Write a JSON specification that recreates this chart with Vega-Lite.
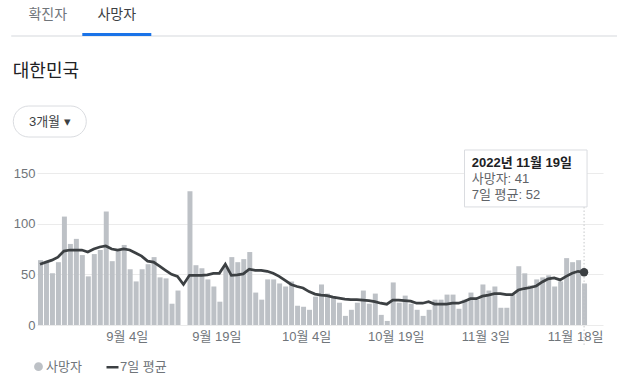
{
  "$schema": "https://vega.github.io/schema/vega-lite/v6.json",
  "background": "white",
  "padding": {"left": 10, "top": 7, "right": 0, "bottom": 0},
  "config": {
    "font": "Liberation Sans, Noto Sans CJK KR, sans-serif",
    "view": {"stroke": null},
    "axis": {"labelFont": "Liberation Sans, Noto Sans CJK KR, sans-serif", "labelColor": "#70757a", "labelFontSize": 13},
    "legend": {"labelFont": "Liberation Sans, Noto Sans CJK KR, sans-serif", "labelFontSize": 13, "labelColor": "#70757a"},
    "text": {"font": "Liberation Sans, Noto Sans CJK KR, sans-serif"}
  },
  "datasets": {
    "tabs": [{"tab": "확진자", "active": false}, {"tab": "사망자", "active": true}],
    "button": [{"label": "3개월  ▾"}],
    "tip": [{"date": "2022-11-19", "deaths": 41, "avg": 52}],
    "covid": [
      {"date": "2022-08-20", "deaths": 64, "avg": 60},
      {"date": "2022-08-21", "deaths": 62, "avg": 62},
      {"date": "2022-08-22", "deaths": 51, "avg": 64},
      {"date": "2022-08-23", "deaths": 62, "avg": 67},
      {"date": "2022-08-24", "deaths": 107, "avg": 73},
      {"date": "2022-08-25", "deaths": 80, "avg": 74},
      {"date": "2022-08-26", "deaths": 85, "avg": 74},
      {"date": "2022-08-27", "deaths": 69, "avg": 74},
      {"date": "2022-08-28", "deaths": 48, "avg": 72},
      {"date": "2022-08-29", "deaths": 70, "avg": 75},
      {"date": "2022-08-30", "deaths": 74, "avg": 77},
      {"date": "2022-08-31", "deaths": 112, "avg": 78},
      {"date": "2022-09-01", "deaths": 63, "avg": 75},
      {"date": "2022-09-02", "deaths": 73, "avg": 74},
      {"date": "2022-09-03", "deaths": 79, "avg": 75},
      {"date": "2022-09-04", "deaths": 55, "avg": 74},
      {"date": "2022-09-05", "deaths": 43, "avg": 71},
      {"date": "2022-09-06", "deaths": 55, "avg": 68},
      {"date": "2022-09-07", "deaths": 60, "avg": 63},
      {"date": "2022-09-08", "deaths": 67, "avg": 62},
      {"date": "2022-09-09", "deaths": 47, "avg": 58},
      {"date": "2022-09-10", "deaths": 46, "avg": 54},
      {"date": "2022-09-11", "deaths": 21, "avg": 50},
      {"date": "2022-09-12", "deaths": 34, "avg": 48},
      {"date": "2022-09-13", "deaths": null, "avg": 40},
      {"date": "2022-09-14", "deaths": 132, "avg": 49},
      {"date": "2022-09-15", "deaths": 59, "avg": 49},
      {"date": "2022-09-16", "deaths": 56, "avg": 49},
      {"date": "2022-09-17", "deaths": 45, "avg": 49.5},
      {"date": "2022-09-18", "deaths": 38, "avg": 51},
      {"date": "2022-09-19", "deaths": 23, "avg": 51},
      {"date": "2022-09-20", "deaths": 58, "avg": 60},
      {"date": "2022-09-21", "deaths": 67, "avg": 49},
      {"date": "2022-09-22", "deaths": 62, "avg": 49.5},
      {"date": "2022-09-23", "deaths": 65, "avg": 50.5},
      {"date": "2022-09-24", "deaths": 72, "avg": 55},
      {"date": "2022-09-25", "deaths": 32, "avg": 54},
      {"date": "2022-09-26", "deaths": 25, "avg": 54},
      {"date": "2022-09-27", "deaths": 45, "avg": 53},
      {"date": "2022-09-28", "deaths": 45, "avg": 51},
      {"date": "2022-09-29", "deaths": 41, "avg": 48},
      {"date": "2022-09-30", "deaths": 38, "avg": 44},
      {"date": "2022-10-01", "deaths": 43, "avg": 40},
      {"date": "2022-10-02", "deaths": 19, "avg": 38},
      {"date": "2022-10-03", "deaths": 18, "avg": 36.5},
      {"date": "2022-10-04", "deaths": 15, "avg": 33},
      {"date": "2022-10-05", "deaths": 28, "avg": 30.5},
      {"date": "2022-10-06", "deaths": 40, "avg": 29.5},
      {"date": "2022-10-07", "deaths": 31, "avg": 29},
      {"date": "2022-10-08", "deaths": 28, "avg": 27.5},
      {"date": "2022-10-09", "deaths": 22, "avg": 26.5},
      {"date": "2022-10-10", "deaths": 9, "avg": 25.5},
      {"date": "2022-10-11", "deaths": 15, "avg": 25},
      {"date": "2022-10-12", "deaths": 22, "avg": 25},
      {"date": "2022-10-13", "deaths": 34, "avg": 24.5},
      {"date": "2022-10-14", "deaths": 21, "avg": 24},
      {"date": "2022-10-15", "deaths": 31, "avg": 23},
      {"date": "2022-10-16", "deaths": 10, "avg": 21.5},
      {"date": "2022-10-17", "deaths": 4, "avg": 20.5},
      {"date": "2022-10-18", "deaths": 42, "avg": 24.5},
      {"date": "2022-10-19", "deaths": 22, "avg": 24.5},
      {"date": "2022-10-20", "deaths": 29, "avg": 24},
      {"date": "2022-10-21", "deaths": 21, "avg": 23.5},
      {"date": "2022-10-22", "deaths": 15, "avg": 21.5},
      {"date": "2022-10-23", "deaths": 9, "avg": 21.5},
      {"date": "2022-10-24", "deaths": 15, "avg": 23},
      {"date": "2022-10-25", "deaths": 25, "avg": 20.7},
      {"date": "2022-10-26", "deaths": 25, "avg": 20.5},
      {"date": "2022-10-27", "deaths": 30, "avg": 20.5},
      {"date": "2022-10-28", "deaths": 30, "avg": 21.5},
      {"date": "2022-10-29", "deaths": 16, "avg": 21.5},
      {"date": "2022-10-30", "deaths": 25, "avg": 23.5},
      {"date": "2022-10-31", "deaths": 32, "avg": 26},
      {"date": "2022-11-01", "deaths": 25, "avg": 26},
      {"date": "2022-11-02", "deaths": 40, "avg": 28.5},
      {"date": "2022-11-03", "deaths": 34, "avg": 29.5},
      {"date": "2022-11-04", "deaths": 38, "avg": 31},
      {"date": "2022-11-05", "deaths": 17, "avg": 31},
      {"date": "2022-11-06", "deaths": 17, "avg": 30},
      {"date": "2022-11-07", "deaths": 30, "avg": 30},
      {"date": "2022-11-08", "deaths": 58, "avg": 34.5},
      {"date": "2022-11-09", "deaths": 51, "avg": 36},
      {"date": "2022-11-10", "deaths": 39, "avg": 37},
      {"date": "2022-11-11", "deaths": 45, "avg": 38.5},
      {"date": "2022-11-12", "deaths": 47, "avg": 42.5},
      {"date": "2022-11-13", "deaths": 49, "avg": 45.5},
      {"date": "2022-11-14", "deaths": 38, "avg": 46.5},
      {"date": "2022-11-15", "deaths": 43, "avg": 44.5},
      {"date": "2022-11-16", "deaths": 66, "avg": 48},
      {"date": "2022-11-17", "deaths": 62, "avg": 51},
      {"date": "2022-11-18", "deaths": 64, "avg": 53},
      {"date": "2022-11-19", "deaths": 41, "avg": 52}
    ]
  },
  "spacing": 11,
  "vconcat": [
    {
      "width": 583,
      "height": 43,
      "data": {"name": "tabs"},
      "layer": [
        {
          "mark": {"type": "rule", "color": "#e3e5e8", "strokeWidth": 1},
          "encoding": {
            "x": {"datum": 0, "type": "quantitative", "scale": {"domain": [0, 1], "range": [-25.7, 583.3], "nice": false, "zero": false}, "axis": null},
            "x2": {"datum": 1},
            "y": {"datum": 0, "type": "quantitative", "scale": {"domain": [-15, 28], "nice": false, "zero": false}, "axis": null}
          }
        },
        {
          "transform": [{"filter": "datum.active"}],
          "mark": {"type": "bar", "color": "#1a73e8"},
          "encoding": {
            "x": {"field": "tab", "type": "nominal", "sort": null,
              "scale": {"type": "band", "domain": ["확진자", "사망자"], "range": [-23.7, 114.3], "paddingInner": 0, "paddingOuter": 0},
              "axis": null},
            "y": {"datum": 0, "type": "quantitative"},
            "y2": {"datum": 3}
          }
        },
        {
          "mark": {"type": "text", "fontSize": 14, "baseline": "middle", "align": "center"},
          "encoding": {
            "x": {"field": "tab", "type": "nominal", "sort": null,
              "scale": {"type": "band", "domain": ["확진자", "사망자"], "range": [-23.7, 114.3], "paddingInner": 0, "paddingOuter": 0},
              "axis": null},
            "y": {"datum": 21, "type": "quantitative"},
            "text": {"field": "tab", "type": "nominal"},
            "color": {"condition": {"test": "datum.active", "value": "#3c4043"}, "value": "#70757a"}
          }
        }
      ],
      "resolve": {"scale": {"x": "independent"}}
    },
    {
      "width": 73,
      "height": 31,
      "title": {"text": "대한민국", "anchor": "start", "frame": "bounds", "fontSize": 18, "fontWeight": "normal", "color": "#202124", "offset": 25, "font": "Noto Sans CJK KR"},
      "data": {"name": "button"},
      "layer": [
        {
          "mark": {"type": "rect", "fill": "white", "stroke": "#dadce0", "strokeWidth": 1, "cornerRadius": 15.5},
          "encoding": {
            "x": {"datum": 0, "type": "quantitative", "scale": {"domain": [0, 1], "range": [-23.7, 49.3], "nice": false, "zero": false}, "axis": null},
            "x2": {"datum": 1},
            "y": {"datum": 0, "type": "quantitative", "scale": {"domain": [0, 1], "nice": false}, "axis": null},
            "y2": {"datum": 1}
          }
        },
        {
          "mark": {"type": "text", "fontSize": 13, "color": "#3c4043", "align": "center", "baseline": "middle"},
          "encoding": {
            "x": {"datum": 0.5, "type": "quantitative"},
            "y": {"datum": 0.5, "type": "quantitative"},
            "text": {"field": "label", "type": "nominal"}
          }
        }
      ]
    },
    {
      "width": 566,
      "height": 152,
      "data": {"name": "covid"},
      "layer": [
        {
          "mark": {"type": "bar", "color": "#bdc1c6"},
          "encoding": {
            "x": {
              "field": "date", "type": "temporal", "timeUnit": "utcyearmonthdate",
              "scale": {"type": "utc", "domain": [{"year": 2022, "month": 8, "date": 20, "utc": true}, {"year": 2022, "month": 11, "date": 22, "hours": 16, "utc": true}]},
              "axis": {
                "values": [
                  {"year": 2022, "month": 9, "date": 4, "utc": true},
                  {"year": 2022, "month": 9, "date": 19, "utc": true},
                  {"year": 2022, "month": 10, "date": 4, "utc": true},
                  {"year": 2022, "month": 10, "date": 19, "utc": true},
                  {"year": 2022, "month": 11, "date": 3, "utc": true},
                  {"year": 2022, "month": 11, "date": 18, "utc": true}
                ],
                "labelExpr": "utcFormat(datum.value, '%-m월 %-d일')",
                "grid": false, "ticks": false, "domain": false, "title": null, "labelPadding": 5, "labelOverlap": false, "labelFlush": false
              }
            },
            "y": {
              "field": "deaths", "type": "quantitative",
              "scale": {"domain": [0, 150], "nice": false},
              "axis": {"values": [0, 50, 100, 150], "title": null, "ticks": false, "domain": false, "gridColor": "#ebebeb", "labelPadding": 2}
            },
            "color": {
              "datum": "사망자",
              "scale": {"domain": ["사망자", "7일 평균"], "range": ["#bdc1c6", "#3c4043"]},
              "legend": {
                "orient": "bottom", "direction": "horizontal", "title": null, "offset": 12,
                "columnPadding": 19, "labelOffset": 0, "symbolOffset": -6, "symbolSize": 40,
                "encode": {
                  "symbols": {
                    "update": {
                      "shape": {"signal": "datum.value === '사망자' ? 'circle' : 'stroke'"},
                      "fill": {"signal": "datum.value === '사망자' ? '#bdc1c6' : 'transparent'"},
                      "stroke": {"signal": "datum.value === '사망자' ? 'transparent' : '#3c4043'"},
                      "strokeWidth": {"value": 2.5},
                      "size": {"signal": "datum.value === '사망자' ? 40 : 144"}
                    }
                  }
                }
              }
            }
          }
        },
        {
          "mark": {"type": "line", "strokeWidth": 2.75},
          "encoding": {
            "x": {"field": "date", "type": "temporal", "timeUnit": "utcyearmonthdate", "bandPosition": 0.5},
            "y": {"field": "avg", "type": "quantitative"},
            "color": {"datum": "7일 평균"}
          }
        },
        {
          "data": {"name": "tip"},
          "mark": {"type": "rule", "color": "#c4c7c9", "strokeDash": [1.5, 2], "strokeWidth": 1},
          "encoding": {
            "x": {"field": "date", "type": "temporal", "timeUnit": "utcyearmonthdate", "bandPosition": 0.5},
            "y": {"datum": 116.5},
            "y2": {"datum": -21}
          }
        },
        {
          "data": {"name": "tip"},
          "mark": {"type": "point", "filled": true, "size": 70, "color": "#3c4043", "opacity": 1},
          "encoding": {
            "x": {"field": "date", "type": "temporal", "timeUnit": "utcyearmonthdate", "bandPosition": 0.5},
            "y": {"field": "avg", "type": "quantitative"}
          }
        },
        {
          "data": {"name": "tip"},
          "mark": {"type": "rect", "fill": "white", "stroke": "#dadce0", "strokeWidth": 1},
          "encoding": {
            "x": {"datum": {"year": 2022, "month": 10, "date": 30, "hours": 12, "utc": true}, "type": "temporal"},
            "x2": {"datum": {"year": 2022, "month": 11, "date": 20, "utc": true}},
            "y": {"datum": 172.7},
            "y2": {"datum": 116.5}
          }
        },
        {
          "data": {"name": "tip"},
          "mark": {"type": "text", "align": "left", "baseline": "middle", "fontSize": 13, "fontWeight": "bold", "color": "#202124"},
          "encoding": {
            "x": {"datum": {"year": 2022, "month": 10, "date": 31, "hours": 17, "utc": true}, "type": "temporal"},
            "y": {"datum": 160},
            "text": {"field": "date", "type": "temporal", "timeUnit": "utcyearmonthdate", "format": "%Y년 %-m월 %-d일"}
          }
        },
        {
          "data": {"name": "tip"},
          "mark": {"type": "text", "align": "left", "baseline": "middle", "fontSize": 13, "color": "#5f6368", "text": "사망자: 41"},
          "encoding": {
            "x": {"datum": {"year": 2022, "month": 10, "date": 31, "hours": 17, "utc": true}, "type": "temporal"},
            "y": {"datum": 144}
          }
        },
        {
          "data": {"name": "tip"},
          "mark": {"type": "text", "align": "left", "baseline": "middle", "fontSize": 13, "color": "#5f6368", "text": "7일 평균: 52"},
          "encoding": {
            "x": {"datum": {"year": 2022, "month": 10, "date": 31, "hours": 17, "utc": true}, "type": "temporal"},
            "y": {"datum": 128}
          }
        }
      ]
    }
  ]
}
